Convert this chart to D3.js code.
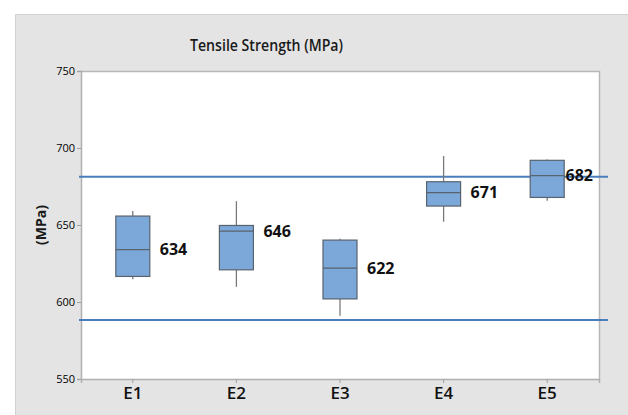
<!DOCTYPE html>
<html>
<head>
<meta charset="utf-8">
<script src="https://cdn.jsdelivr.net/npm/d3@7"></script>
<style>
  html, body { margin: 0; padding: 0; background: #ffffff; }
  svg { display: block; }
  text { font-family: "Open Sans", "DejaVu Sans", sans-serif; }
</style>
</head>
<body>
<svg id="chart" width="628" height="415"></svg>
<script>
// Tensile strength by specimen group: five-number summaries and median labels
const groups   = ["E1", "E2", "E3", "E4", "E5"];
const whiskLo  = [614.7, 609.8, 591.0, 652.1, 665.7];
const quart1   = [616.6, 620.9, 602.0, 662.3, 667.9];
const medians  = [634, 646, 622, 671, 682];
const quart3   = [655.8, 649.7, 640.2, 678.1, 692.0];
const whiskHi  = [659.1, 665.5, 641.0, 694.8, 692.6];
const refLines = [681.4, 588.3];
const yTicks   = [550, 600, 650, 700, 750];
const yDomain  = [550, 750];

const svg = d3.select("#chart");
const W = 628, H = 415;
const plot = { left: 81, top: 71, right: 599, bottom: 379 };

// outer panel
svg.append("rect")
  .attr("x", 15.5).attr("y", 14.5)
  .attr("width", W - 15).attr("height", H - 14)
  .attr("fill", "#e4e4e4").attr("stroke", "#d2d2d2").attr("stroke-width", 1);

// plot area
svg.append("rect")
  .attr("x", plot.left).attr("y", plot.top)
  .attr("width", plot.right - plot.left).attr("height", plot.bottom - plot.top)
  .attr("fill", "#ffffff");

const x = d3.scaleBand().domain(groups).range([plot.left, plot.right]).padding(0);
const y = d3.scaleLinear().domain(yDomain).range([plot.bottom, plot.top]);

// frame: top and right edges
svg.append("path")
  .attr("d", `M${plot.left},${plot.top + 0.5}H${plot.right + 0.5}V${plot.bottom}`)
  .attr("fill", "none").attr("stroke", "#b8b8b8").attr("stroke-width", 1.5);

// y axis
const yAxis = svg.append("g")
  .attr("transform", `translate(${plot.left},0)`)
  .call(d3.axisLeft(y).tickValues(yTicks).tickSize(4).tickPadding(2).tickFormat(d3.format("d")));
yAxis.select(".domain").attr("stroke", "#b0b0b0").attr("stroke-width", 1.5);
yAxis.selectAll(".tick line").attr("stroke", "#a0a0a0");
yAxis.selectAll(".tick text").attr("fill", "#000").style("font-size", "11px")
  .style("font-family", "'Open Sans', sans-serif");

// x axis
const xAxis = svg.append("g")
  .attr("transform", `translate(0,${plot.bottom})`)
  .call(d3.axisBottom(x).tickSize(4).tickPadding(4));
xAxis.select(".domain").attr("stroke", "#b0b0b0").attr("stroke-width", 1.5);
xAxis.selectAll(".tick line").attr("stroke", "#a0a0a0");
xAxis.selectAll(".tick text").attr("fill", "#111").style("font-size", "17px")
  .style("font-weight", 600)
  .style("font-family", "'Open Sans', sans-serif");

// reference lines (extend slightly past the frame)
svg.selectAll(".ref").data(refLines).enter().append("line")
  .attr("class", "ref")
  .attr("x1", plot.left - 2).attr("x2", plot.right + 9)
  .attr("y1", d => y(d)).attr("y2", d => y(d))
  .attr("stroke", "#4a7ebb").attr("stroke-width", 2);

// boxes
const boxW = 34;
const rows = groups.map((g, i) => ({
  g, lo: whiskLo[i], q1: quart1[i], med: medians[i], q3: quart3[i], hi: whiskHi[i]
}));
const cx = d => x(d.g) + x.bandwidth() / 2;

const box = svg.selectAll(".box").data(rows).enter().append("g").attr("class", "box");
box.append("line")
  .attr("x1", cx).attr("x2", cx)
  .attr("y1", d => y(d.hi)).attr("y2", d => y(d.q3))
  .attr("stroke", "#7a7a7a").attr("stroke-width", 1.3);
box.append("line")
  .attr("x1", cx).attr("x2", cx)
  .attr("y1", d => y(d.q1)).attr("y2", d => y(d.lo))
  .attr("stroke", "#7a7a7a").attr("stroke-width", 1.3);
box.append("rect")
  .attr("x", d => cx(d) - boxW / 2).attr("width", boxW)
  .attr("y", d => y(d.q3)).attr("height", d => y(d.q1) - y(d.q3))
  .attr("fill", "#7ba7d9").attr("stroke", "#59636e").attr("stroke-width", 1.2);
box.append("line")
  .attr("x1", d => cx(d) - boxW / 2).attr("x2", d => cx(d) + boxW / 2)
  .attr("y1", d => y(d.med)).attr("y2", d => y(d.med))
  .attr("stroke", "#59636e").attr("stroke-width", 1.3);

// median value labels, kept inside the frame
box.append("text")
  .text(d => d.med)
  .attr("y", d => y(d.med))
  .attr("dy", "0.35em")
  .style("font-size", "16px").style("font-weight", 700).attr("fill", "#111")
  .attr("x", function (d) {
    const w = this.getComputedTextLength();
    return Math.min(cx(d) + boxW / 2 + 10, plot.right - 6 - w);
  });

// title
svg.append("text")
  .attr("x", 266.5).attr("y", 51)
  .attr("text-anchor", "middle")
  .attr("textLength", 153).attr("lengthAdjust", "spacingAndGlyphs")
  .style("font-size", "16.5px").style("font-weight", 600).attr("fill", "#1a1a1a")
  .text("Tensile Strength (MPa)");

// y axis title
svg.append("text")
  .attr("transform", `translate(46,${(plot.top + plot.bottom) / 2}) rotate(-90)`)
  .attr("text-anchor", "middle")
  .style("font-size", "14px").style("font-weight", 700).attr("fill", "#1a1a1a")
  .text("(MPa)");
</script>
</body>
</html>
